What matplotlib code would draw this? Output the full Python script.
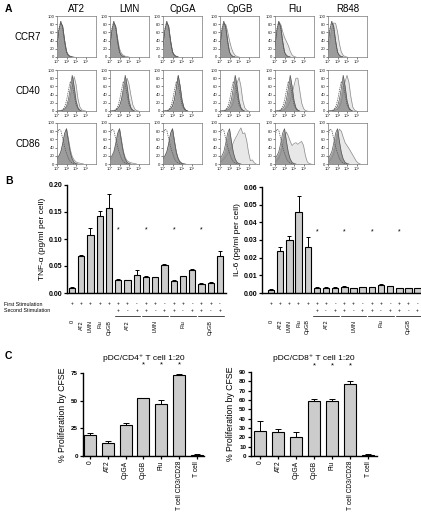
import numpy as np
import matplotlib
matplotlib.use('Agg')
import matplotlib.pyplot as plt
import matplotlib.transforms as mtransforms

plt.rcParams['font.family'] = ['Liberation Sans', 'DejaVu Sans']

# ---------------- data ----------------
# panel A: histograms, % of max, sampled every 0.2 decade from 10^0
hist_cols = ['AT2', 'LMN', 'CpGA', 'CpGB', 'Flu', 'R848']
hist_rows = ['CCR7', 'CD40', 'CD86']

ccr7_iso = [30, 70, 88, 70, 35, 12, 4, 1, 0]
ccr7_unstim = [25, 65, 85, 75, 40, 12, 3, 1, 0]
ccr7_stim = [
    [25, 62, 83, 73, 42, 15, 5, 2, 1, 0],
    [22, 58, 82, 74, 46, 20, 9, 4, 2, 1, 0],
    [25, 62, 84, 72, 38, 13, 5, 2, 0],
    [20, 55, 80, 80, 62, 40, 22, 10, 4, 1, 0],
    [20, 55, 85, 80, 62, 48, 38, 28, 14, 5, 1, 0],
    [12, 40, 68, 83, 82, 62, 32, 12, 4, 1, 0],
]
cd40_iso = [0, 0, 1, 3, 10, 25, 50, 72, 65, 40, 15, 5, 1, 0]
cd40_unstim = [0, 0, 0, 2, 5, 12, 28, 55, 87, 60, 25, 8, 2, 0]
cd40_stim = [
    [0, 0, 0, 1, 3, 8, 18, 35, 60, 84, 65, 30, 10, 3, 1, 0],
    [0, 0, 0, 2, 5, 12, 25, 45, 68, 80, 65, 38, 15, 5, 1, 0],
    [0, 0, 0, 2, 5, 12, 28, 55, 86, 62, 28, 9, 2, 0],
    [0, 0, 0, 1, 2, 5, 10, 20, 40, 68, 82, 60, 25, 8, 2, 0],
    [0, 0, 0, 1, 2, 4, 8, 14, 25, 42, 62, 80, 80, 50, 20, 6, 1, 0],
    [0, 0, 0, 1, 2, 5, 10, 22, 45, 72, 87, 70, 35, 10, 2, 0],
]
cd86_iso = [70, 85, 82, 62, 42, 26, 14, 6, 2, 1, 0]
cd86_unstim = [15, 20, 30, 50, 75, 86, 55, 28, 12, 4, 1, 0]
cd86_stim = [
    [12, 18, 28, 48, 72, 86, 62, 35, 18, 10, 5, 3, 2, 1, 0],
    [10, 16, 25, 45, 70, 86, 60, 32, 16, 8, 5, 3, 2, 1, 0],
    [12, 18, 28, 48, 74, 86, 58, 30, 14, 6, 2, 1, 0],
    [5, 8, 12, 18, 25, 32, 40, 52, 62, 70, 80, 88, 74, 76, 58, 28, 8, 10, 3, 0],
    [5, 8, 14, 25, 45, 65, 78, 68, 55, 45, 50, 52, 48, 52, 55, 45, 20, 5, 1, 0],
    [5, 8, 14, 25, 45, 70, 85, 80, 65, 52, 45, 38, 30, 22, 14, 6, 2, 0],
]

# panel B
b_labels = ['0', 'AT2', 'LMN', 'Flu', 'CpGB']
b_groups = ['AT2', 'LMN', 'Flu', 'CpGB']
first_stim = ['+', '+', '+', '+', '+'] + ['+', '+', '-'] * 4
second_stim = ['', '', '', '', ''] + ['+', '-', '+'] * 4
tnf = [0.010, 0.068, 0.107, 0.142, 0.158, 0.024, 0.024, 0.034, 0.030, 0.029,
       0.051, 0.022, 0.031, 0.042, 0.017, 0.019, 0.069]
tnf_err = [0.001, 0.002, 0.014, 0.010, 0.025, 0.002, 0.001, 0.008, 0.001,
           0.001, 0.002, 0.003, 0.001, 0.002, 0.001, 0.002, 0.009]
il6 = [0.0018, 0.0237, 0.0298, 0.046, 0.0262, 0.003, 0.003, 0.003, 0.0035,
       0.0027, 0.0033, 0.0033, 0.0047, 0.004, 0.0028, 0.0028, 0.0027]
il6_err = [0.0002, 0.0023, 0.0027, 0.009, 0.0055, 0.0004, 0.0002, 0.0002,
           0.0002, 0.0002, 0.0002, 0.0002, 0.0002, 0.0002, 0.0002, 0.0002, 0.0002]
b_star_idx = [5, 8, 11, 14]

# panel C
c_labels = ['0', 'AT2', 'CpGA', 'CpGB', 'Flu', 'T cell CD3/CD28', 'T cell']
cd4 = [19, 12, 28, 52, 47, 73, 1]
cd4_err = [2, 1.5, 2, 0.5, 4, 1.5, 1]
cd8 = [27, 26, 20, 59, 59, 77, 1.5]
cd8_err = [10, 3, 6, 2, 2, 3, 1]
c_star_idx = [3, 4, 5]

# ---------------- figure ----------------
W, H = 421, 514
fig = plt.figure(figsize=(W / 100, H / 100), dpi=100)


def px_axes(x0, y0, x1, y1):
    return fig.add_axes([x0 / W, 1 - y1 / H, (x1 - x0) / W, (y1 - y0) / H])


dark = '#9c9c9c'
light = '#e8e8e8'

# panel A
col_left = [57, 110, 163, 220, 275, 328]
row_top = [16, 70, 123]
iso = [ccr7_iso, cd40_iso, cd86_iso]
unstim = [ccr7_unstim, cd40_unstim, cd86_unstim]
stim = [ccr7_stim, cd40_stim, cd86_stim]
for r in range(3):
    for c in range(6):
        ax = px_axes(col_left[c], row_top[r], col_left[c] + 39, row_top[r] + 41)
        s = stim[r][c]
        xs = 0.2 * np.arange(len(s))
        ax.fill_between(xs, s, color=light, lw=0)
        ax.plot(xs, s, color='#8a8a8a', lw=0.5)
        u = unstim[r]
        xu = 0.2 * np.arange(len(u))
        ax.fill_between(xu, u, color=dark, lw=0)
        ax.plot(xu, u, color='#555555', lw=0.5)
        d = iso[r]
        xd = 0.2 * np.arange(len(d))
        ax.plot(xd, d, color='#555555', lw=0.5, ls=(0, (2, 1.2)))
        ax.set_xlim(0, 4.1)
        ax.set_ylim(0, 100)
        ax.set_xticks([0, 1, 2, 3])
        ax.set_xticklabels(['10⁰', '10¹', '10²', '10³'])
        ax.set_yticks([0, 20, 40, 60, 80, 100])
        ax.tick_params(labelsize=3.1, length=1.5, width=0.4, pad=0.6, colors='#222222')
        for sp in ax.spines.values():
            sp.set_linewidth(0.5)
            sp.set_color('#777777')
        if r == 0:
            ax.set_title(hist_cols[c], fontsize=7, pad=3)
        if c == 0:
            fig.text(28 / W, 1 - (row_top[r] + 21) / H, hist_rows[r], fontsize=7,
                     ha='center', va='center')

fig.text(5 / W, 1 - 9 / H, 'A', fontsize=7.5, fontweight='bold', va='center')
fig.text(5 / W, 1 - 181 / H, 'B', fontsize=7.5, fontweight='bold', va='center')
fig.text(5 / W, 1 - 356 / H, 'C', fontsize=7.5, fontweight='bold', va='center')


def style_bar_axes(ax):
    for sp in ['top', 'right']:
        ax.spines[sp].set_visible(False)
    for sp in ['left', 'bottom']:
        ax.spines[sp].set_linewidth(1.0)
    ax.tick_params(length=2.5, width=0.9, pad=1)
    for lab in ax.get_yticklabels():
        lab.set_fontweight('bold')


def panel_b(ax, vals, errs, ylim, yticks, fmt, ylabel, star_y):
    x = np.arange(len(vals))
    ax.bar(x, vals, width=0.7, color='#cccccc', edgecolor='black', linewidth=0.8)
    ax.errorbar(x, vals, yerr=[np.zeros(len(errs)), errs], fmt='none',
                ecolor='black', elinewidth=0.7, capsize=1.6, capthick=0.7)
    ax.set_ylim(*ylim)
    ax.set_yticks(yticks)
    ax.set_yticklabels([fmt % v for v in yticks], fontsize=5)
    ax.set_xticks([])
    ax.set_ylabel(ylabel, fontsize=6, labelpad=2)
    style_bar_axes(ax)
    tr = mtransforms.blended_transform_factory(ax.transData, ax.transAxes)
    for i in range(len(vals)):
        ax.text(i, -0.10, first_stim[i], transform=tr, fontsize=3.5,
                ha='center', va='center', clip_on=False)
        if second_stim[i]:
            ax.text(i, -0.165, second_stim[i], transform=tr, fontsize=3.5,
                    ha='center', va='center', clip_on=False)
    for i, lab in enumerate(b_labels):
        ax.text(i, -0.25, lab, transform=tr, fontsize=4, rotation=90,
                ha='center', va='top', clip_on=False)
    for g, lab in enumerate(b_groups):
        i0 = 5 + 3 * g
        ax.plot([i0 - 0.4, i0 + 2.4], [-0.215, -0.215], transform=tr,
                color='black', lw=0.5, clip_on=False)
        ax.text(i0 + 1, -0.25, lab, transform=tr, fontsize=4, rotation=90,
                ha='center', va='top', clip_on=False)
    for i in b_star_idx:
        ax.text(i, star_y, '*', fontsize=5, ha='center', va='center')


axb1 = px_axes(67, 185, 226, 293)
panel_b(axb1, tnf, tnf_err, (0, 0.20), [0, 0.05, 0.10, 0.15, 0.20], '%.2f',
        'TNF-α (pg/ml per cell)', 0.117)
axb1.set_xlim(-0.54, 16.65)

axb2 = px_axes(262, 187, 425, 293)
panel_b(axb2, il6, il6_err, (0, 0.06), [0, 0.01, 0.02, 0.03, 0.04, 0.05, 0.06],
        '%.2f', 'IL-6 (pg/ml per cell)', 0.0345)
axb2.set_xlim(-0.99, 16.8)

fig.text(4 / W, 1 - 304 / H, 'First Stimulation', fontsize=3.8, va='center')
fig.text(4 / W, 1 - 311 / H, 'Second Stimulation', fontsize=3.8, va='center')


def panel_c(ax, vals, errs, ylim, yticks, title, star_y):
    x = np.arange(len(vals))
    ax.bar(x, vals, width=0.68, color='#cccccc', edgecolor='black', linewidth=0.8)
    ax.errorbar(x, vals, yerr=[np.zeros(len(errs)), errs], fmt='none',
                ecolor='black', elinewidth=0.7, capsize=2.2, capthick=0.7)
    ax.set_ylim(*ylim)
    ax.set_yticks(yticks)
    ax.set_yticklabels([str(v) for v in yticks], fontsize=4.5)
    ax.set_xticks(x)
    ax.set_xticklabels(c_labels, rotation=90, fontsize=4.8)
    ax.set_ylabel('% Proliferation by CFSE', fontsize=6.3, labelpad=3)
    style_bar_axes(ax)
    for i in c_star_idx:
        ax.text(i, star_y, '*', fontsize=5.5, ha='center', va='center', clip_on=False)
    ax.set_title(title, fontsize=6, pad=9)


axc1 = px_axes(83, 373, 204, 456)
panel_c(axc1, cd4, cd4_err, (0, 75), [0, 25, 50, 75], 'pDC/CD4⁺ T cell 1:20', 82)
axc1.set_xlim(-0.39, 6.4)

axc2 = px_axes(251, 372, 377, 456)
panel_c(axc2, cd8, cd8_err, (0, 90), list(range(0, 91, 10)), 'pDC/CD8⁺ T cell 1:20', 97)
axc2.set_xlim(-0.5, 6.5)

fig.savefig('out.png', dpi=100)
